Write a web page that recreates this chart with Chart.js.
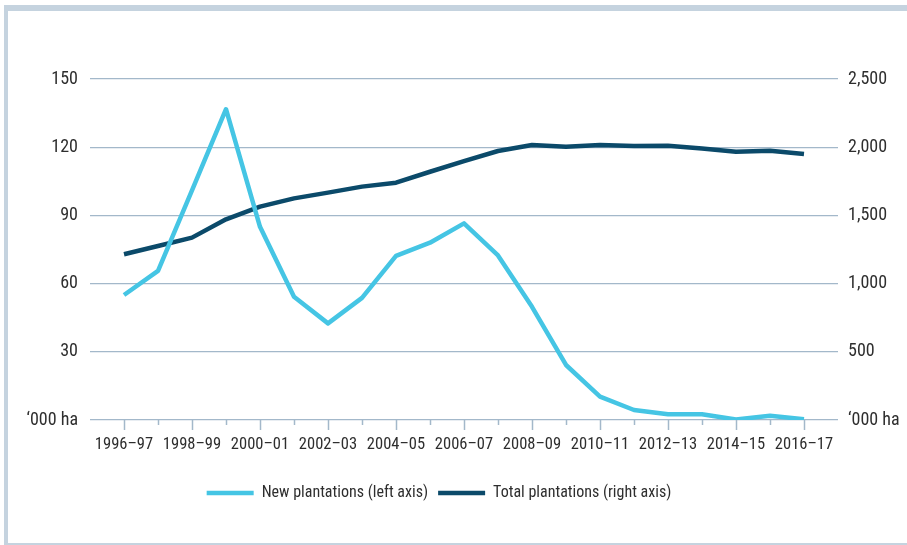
<!DOCTYPE html>
<html>
<head>
<meta charset="utf-8">
<script src="https://cdn.jsdelivr.net/npm/chart.js@4/dist/chart.umd.min.js"></script>
<style>
  html, body { margin: 0; padding: 0; background: #fff; }
  #wrap { position: relative; width: 907px; height: 545px; overflow: hidden; }
  #frame { position: absolute; left: 4px; top: 5px; right: -10px; bottom: 0;
    border-top: 6px solid #c5d3df; border-left: 4px solid #c5d3df; border-bottom: 2px solid #c5d3df; }
  canvas { position: absolute; left: 0; top: 0; }
</style>
</head>
<body>
<div id="wrap">
  <div id="frame"></div>
  <canvas id="mainChart" width="907" height="545"></canvas>
</div>
<script>
var years = ['1996–97', '1997–98', '1998–99', '1999–00', '2000–01', '2001–02', '2002–03',
  '2003–04', '2004–05', '2005–06', '2006–07', '2007–08', '2008–09', '2009–10', '2010–11',
  '2011–12', '2012–13', '2013–14', '2014–15', '2015–16', '2016–17'];

// '000 ha
var newPlantations = [55, 65.6, 101, 136.7, 85, 54.2, 42.5, 53.7, 72.2, 78, 86.5,
  72.4, 49.8, 24.2, 10.3, 4.4, 2.5, 2.5, 0.2, 1.9, 0.3];
var totalPlantations = [1215, 1276, 1337, 1471, 1564, 1625, 1667, 1711, 1740, 1820, 1898,
  1972, 2016, 2003, 2016, 2009, 2010, 1991, 1967, 1974, 1950];

var leftTicks = [0, 30, 60, 90, 120, 150];
var rightTicks = [0, 500, 1000, 1500, 2000, 2500];

var fontFamily = '"Roboto Condensed", "Liberation Sans Narrow", "Arial Narrow", Roboto, sans-serif';
var gridColor = '#a3b8ca';
var textColor = '#2e2e2e';
var lightBlue = '#45c5e4';
var darkBlue = '#0b4a6a';

// one empty slot each side so the lines sit in from the gridline ends
var labels = [''].concat(years, ['']);
function pad (arr) { return [null].concat(arr, [null]); }

var xTicks = {
  id: 'xTicks',
  afterDraw: function (chart) {
    var x = chart.scales.x, c = chart.ctx, base = chart.chartArea.bottom;
    c.save();
    c.strokeStyle = gridColor;
    c.lineWidth = 1.5;
    years.forEach(function (y, j) {
      var px = Math.round(x.getPixelForValue(j + 1)) + 0.5;
      c.beginPath();
      c.moveTo(px, base);
      c.lineTo(px, base + (j % 2 === 0 ? 10 : 5));
      c.stroke();
    });
    c.restore();
  }
};

function haLabel (v, fmt) {
  return v === 0 ? '‘000 ha' : fmt(v);
}

var ctx = document.getElementById('mainChart');
var myLineChart = new Chart(ctx, {
  type: 'line',
  data: {
    labels: labels,
    datasets: [{
      label: 'New plantations (left axis)',
      data: pad(newPlantations),
      yAxisID: 'y',
      borderColor: lightBlue,
      backgroundColor: lightBlue,
      borderWidth: 4.5,
      pointRadius: 0,
      pointStyle: 'line',
      tension: 0,
      borderJoinStyle: 'round'
    }, {
      label: 'Total plantations (right axis)',
      data: pad(totalPlantations),
      yAxisID: 'y1',
      borderColor: darkBlue,
      backgroundColor: darkBlue,
      borderWidth: 4.5,
      pointRadius: 0,
      pointStyle: 'line',
      tension: 0,
      borderJoinStyle: 'round'
    }]
  },
  plugins: [xTicks],
  options: {
    responsive: false,
    animation: false,
    layout: { padding: { top: 79, left: -29, right: 0, bottom: 34 } },
    plugins: {
      tooltip: { enabled: false },
      legend: {
        position: 'bottom',
        labels: {
          usePointStyle: true,
          pointStyleWidth: 47,
          boxHeight: 4,
          padding: 10,
          color: textColor,
          font: { family: fontFamily, size: 16 }
        }
      }
    },
    scales: {
      x: {
        offset: false,
        grid: { display: false, drawTicks: false },
        border: { display: false },
        afterFit: function (s) { s.height = 55; },
        ticks: {
          autoSkip: false,
          maxRotation: 0,
          padding: 15,
          color: textColor,
          font: { family: fontFamily, size: 16.5 },
          callback: function (v, i) {
            var j = i - 1;
            return (j >= 0 && j < years.length && j % 2 === 0) ? years[j] : '';
          }
        }
      },
      y: {
        position: 'left',
        min: leftTicks[0],
        max: leftTicks[leftTicks.length - 1],
        afterFit: function (s) { s.width = 119; },
        afterBuildTicks: function (s) { s.ticks = leftTicks.map(function (v) { return { value: v }; }); },
        grid: { color: gridColor, lineWidth: 1.3, drawTicks: false },
        border: { display: false },
        ticks: {
          padding: 12,
          color: textColor,
          font: { family: fontFamily, size: 18 },
          callback: function (v) { return haLabel(v, String); }
        }
      },
      y1: {
        position: 'right',
        min: rightTicks[0],
        max: rightTicks[rightTicks.length - 1],
        afterFit: function (s) { s.width = 69; },
        afterBuildTicks: function (s) { s.ticks = rightTicks.map(function (v) { return { value: v }; }); },
        grid: { drawOnChartArea: false, drawTicks: false },
        border: { display: false },
        ticks: {
          padding: 10,
          color: textColor,
          font: { family: fontFamily, size: 18 },
          callback: function (v) { return haLabel(v, function (n) { return n.toLocaleString('en-US'); }); }
        }
      }
    }
  }
});
</script>
</body>
</html>
